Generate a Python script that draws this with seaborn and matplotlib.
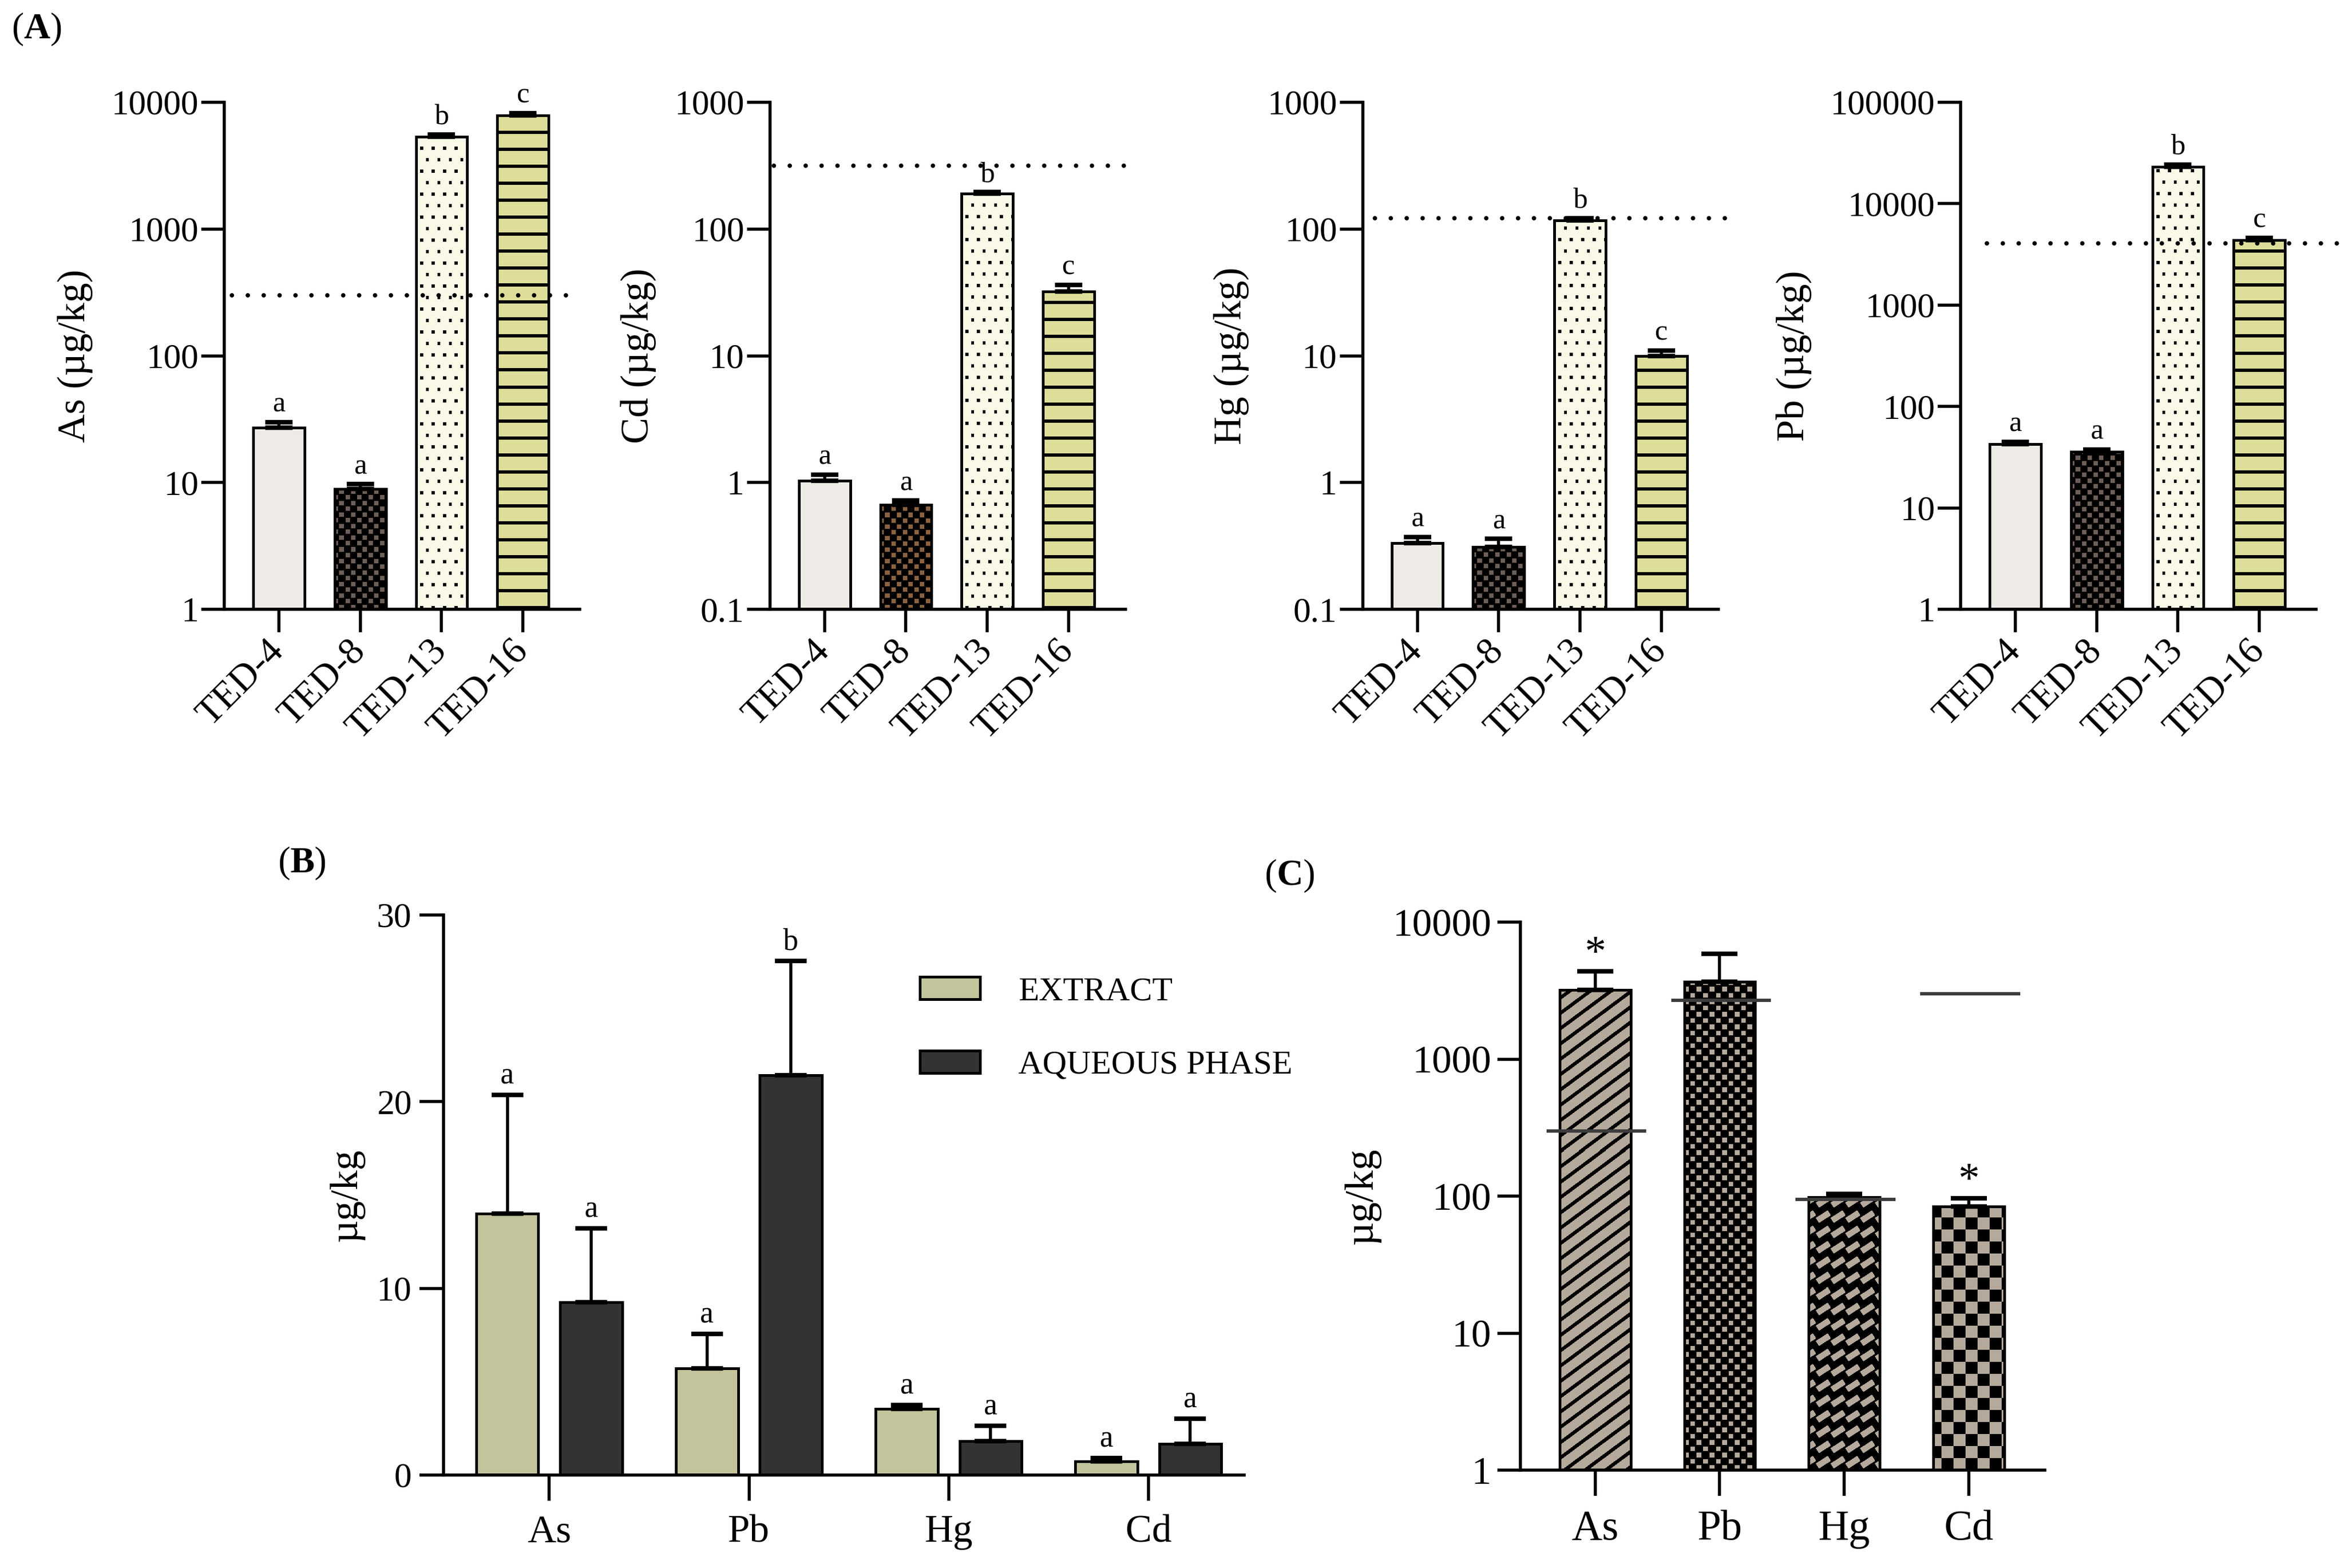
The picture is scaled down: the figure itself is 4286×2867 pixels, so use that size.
import numpy as np
import pandas as pd
import seaborn as sns
import matplotlib
matplotlib.use("Agg")
import matplotlib.pyplot as plt
import matplotlib.colors as mcolors
import matplotlib.image as mimage
from matplotlib.patches import Patch
from matplotlib.ticker import FixedLocator, FuncFormatter, NullLocator

# ---------------- data ----------------
# (A) metal content per sample, log scale
samples = ["TED-4", "TED-8", "TED-13", "TED-16"]
as_mean = [27.2, 8.9, 5330, 7870]
as_sd = [2.7, 0.8, 240, 360]
cd_mean = [1.03, 0.67, 190, 32]
cd_sd = [0.12, 0.05, 5, 4.2]
hg_mean = [0.334, 0.311, 117, 10.0]
hg_sd = [0.038, 0.048, 5, 1.0]
pb_mean = [42.5, 36.0, 23100, 4390]
pb_sd = [2.4, 1.6, 1300, 190]
a_letters = ["a", "a", "b", "c"]
a_limits = {"As": 300, "Cd": 316, "Hg": 122, "Pb": 4050}

# (B) extract vs aqueous phase
metals = ["As", "Pb", "Hg", "Cd"]
fractions = ["EXTRACT", "AQUEOUS PHASE"]
extract_mean = [14.0, 5.7, 3.55, 0.74]
extract_sd = [6.35, 1.85, 0.2, 0.18]
aqueous_mean = [9.27, 21.4, 1.81, 1.68]
aqueous_sd = [3.95, 6.15, 0.82, 1.33]
extract_letters = ["a", "a", "a", "a"]
aqueous_letters = ["a", "b", "a", "a"]

# (C) totals with reference levels
c_mean = [3206, 3675, 98.4, 83.8]
c_sd = [1180, 2215, 5.6, 13]
c_limits = [300, 2700, 95, 3000]
c_marks = ["*", "", "", "*"]

# ---------------- style ----------------
W_PX, H_PX, DPI = 4286, 2867, 200
sns.set_style("ticks")
plt.rcParams.update({
    "font.family": ["Liberation Serif", "DejaVu Serif"],
    "mathtext.fontset": "custom",
    "mathtext.rm": "Liberation Serif",
    "mathtext.bf": "Liberation Serif:bold",
    "axes.edgecolor": "black",
    "axes.linewidth": 2.0,
    "xtick.color": "black",
    "ytick.color": "black",
    "text.color": "black",
    "axes.labelcolor": "black",
})

fig = plt.figure(figsize=(W_PX / DPI, H_PX / DPI), dpi=DPI)


def texture(kind, w, h, bg, fg="black"):
    yy, xx = np.mgrid[0:h, 0:w].astype(float)
    if kind == "dots":
        p = 21.0
        row = np.floor(yy / p)
        mask = (((xx + (row % 2) * p / 2) % p) < 5.5) & ((yy % p) < 5.5)
    elif kind == "hlines":
        mask = (yy % 31.0) < 6
    elif kind == "stripes":
        mask = ((xx / 37.7 - yy / 28.0) % 1) < 0.29
    elif kind == "bricks":
        th = np.deg2rad(33)
        dx = (xx % 27) - 13.5
        dy = (yy % 28) - 14
        u = dx * np.cos(th) + dy * np.sin(th)
        v = -dx * np.sin(th) + dy * np.cos(th)
        mask = ~((np.abs(u) < 13) & (np.abs(v) < 5.5))
    else:
        cell, inner = {"check_s": (10.5, 0.72), "check_f": (11.5, 0.7),
                       "check_l": (22.0, 1.01)}[kind]
        i = np.floor(xx / cell)
        j = np.floor(yy / cell)
        inside = ((xx % cell) < inner * cell) & ((yy % cell) < inner * cell)
        mask = ~(((i + j) % 2 == 0) & inside)
    return np.where(mask[..., None], mcolors.to_rgb(fg), mcolors.to_rgb(bg))


def fill_bar(ax, bar, kind, bg):
    bb = ax.get_position()
    w = int(round(bb.width * W_PX))
    h = int(round(bb.height * H_PX))
    im = mimage.AxesImage(ax, interpolation="nearest", origin="lower",
                          extent=(0, 1, 0, 1), transform=ax.transAxes, zorder=1)
    im.set_data(texture(kind, w, h, bg))
    ax.add_image(im)
    im.set_clip_path(bar)
    bar.set_facecolor("none")
    bar.set_zorder(1.2)


def style_axes(ax, ylen=15):
    sns.despine(ax=ax)
    ax.tick_params(axis="both", which="major", length=ylen, width=2, direction="out")
    ax.tick_params(axis="both", which="minor", length=0)
    ax.yaxis.set_minor_locator(NullLocator())


log_fmt = FuncFormatter(lambda v, _: f"{v:g}")

# ---------------- panel A ----------------
a_left = [0.0957, 0.3285, 0.5814, 0.8365]
a_panels = [
    ("As", as_mean, as_sd, (1, 10000), [-0.58, 3.54], "#6D5F58"),
    ("Cd", cd_mean, cd_sd, (0.1, 1000), [-0.62, 3.8], "#8A6240"),
    ("Hg", hg_mean, hg_sd, (0.1, 1000), [-0.52, 3.79], "#6D5F58"),
    ("Pb", pb_mean, pb_sd, (1, 100000), [-0.35, 4.07], "#6D5F58"),
]
a_fill = ["#EEEAE5", "#6D5F58", "#FAF8E7", "#DEDE9A"]
a_kind = [None, "check_s", "dots", "hlines"]

for left, (metal, mean, sd, ylim, line_x, check_col) in zip(a_left, a_panels):
    ax = fig.add_axes([left, 0.6114, 0.1517, 0.3234])
    ax.set_yscale("log")
    df = pd.DataFrame({"sample": samples, "value": mean})
    cols = [a_fill[0], check_col, a_fill[2], a_fill[3]]
    sns.barplot(data=df, x="sample", y="value", hue="sample", palette=cols,
                legend=False, width=0.63, saturation=1, errorbar=None,
                edgecolor="black", linewidth=1.8, ax=ax)
    for bar, kind, col in zip(ax.patches, a_kind, cols):
        if kind:
            fill_bar(ax, bar, kind, col)
    ax.errorbar(range(4), mean, yerr=[np.zeros(4), sd], fmt="none",
                ecolor="black", elinewidth=2, capsize=9, capthick=3, zorder=4)
    for i, (m, s, lt) in enumerate(zip(mean, sd, a_letters)):
        ax.annotate(lt, (i, m + s), xytext=(0, 3), textcoords="offset points",
                    ha="center", va="bottom", fontsize=19)
    ax.plot(line_x, [a_limits[metal]] * 2, color="black", lw=2.9,
            ls=(0, (0.01, 3.6)), dash_capstyle="round", clip_on=False, zorder=5)
    ax.set_ylim(*ylim)
    ax.set_xlim(-0.67, 3.7)
    dec = np.arange(np.log10(ylim[0]), np.log10(ylim[1]) + 1)
    ax.yaxis.set_major_locator(FixedLocator(10.0 ** dec))
    ax.yaxis.set_major_formatter(log_fmt)
    style_axes(ax)
    ax.tick_params(axis="y", labelsize=23, pad=2)
    ax.set_xticks(range(4))
    ax.set_xticklabels(samples, rotation=45, ha="right", va="center",
                       rotation_mode="anchor", fontsize=25)
    ax.tick_params(axis="x", pad=9)
    ax.set_xlabel("")
    ax.set_ylabel(f"{metal} (µg/kg)", fontsize=26, labelpad=12)

# ---------------- panel B ----------------
axb = fig.add_axes([0.1892, 0.0593, 0.3416, 0.3572])
b_df = pd.DataFrame({
    "metal": metals * 2,
    "fraction": [fractions[0]] * 4 + [fractions[1]] * 4,
    "value": extract_mean + aqueous_mean,
})
b_colors = ["#C3C49B", "#333333"]
sns.barplot(data=b_df, x="metal", y="value", hue="fraction", palette=b_colors,
            width=0.84, gap=0.26, saturation=1, errorbar=None, legend=False,
            edgecolor="black", linewidth=1.8, ax=axb)
b_x = [p.get_x() + p.get_width() / 2 for p in axb.patches]
b_means = extract_mean + aqueous_mean
b_sds = extract_sd + aqueous_sd
axb.errorbar(b_x, b_means, yerr=[np.zeros(8), b_sds], fmt="none",
             ecolor="black", elinewidth=2, capsize=10.5, capthick=3, zorder=4)
for x, m, s, lt in zip(b_x, b_means, b_sds, extract_letters + aqueous_letters):
    axb.annotate(lt, (x, m + s), xytext=(0, 3), textcoords="offset points",
                 ha="center", va="bottom", fontsize=20)
axb.set_ylim(0, 30)
axb.set_xlim(-0.53, 3.48)
axb.set_yticks([0, 10, 20, 30])
style_axes(axb, ylen=16)
axb.tick_params(axis="y", labelsize=23, pad=5)
axb.tick_params(axis="x", labelsize=26, pad=9, length=17)
axb.set_xlabel("")
axb.set_ylabel("µg/kg", fontsize=26, labelpad=8)
axb.legend([Patch(facecolor=c, edgecolor="black", lw=1.8) for c in b_colors],
           fractions, loc="upper left", bbox_to_anchor=(0.595, 0.89),
           frameon=False, fontsize=22, handlelength=1.8, handleheight=0.65,
           handletextpad=1.15, labelspacing=1.3, borderpad=0, borderaxespad=0)

# ---------------- panel C ----------------
axc = fig.add_axes([0.6486, 0.0624, 0.2238, 0.3495])
axc.set_yscale("log")
c_df = pd.DataFrame({"metal": metals, "value": c_mean})
c_tan = "#B5A99C"
sns.barplot(data=c_df, x="metal", y="value", hue="metal", palette=[c_tan] * 4,
            legend=False, width=0.57, saturation=1, errorbar=None,
            edgecolor="black", linewidth=1.8, ax=axc)
for bar, kind in zip(axc.patches, ["stripes", "check_f", "bricks", "check_l"]):
    fill_bar(axc, bar, kind, c_tan)
axc.errorbar(range(4), c_mean, yerr=[np.zeros(4), c_sd], fmt="none",
             ecolor="black", elinewidth=2, capsize=12, capthick=3, zorder=4)
for i, (lim, m, s, mk) in enumerate(zip(c_limits, c_mean, c_sd, c_marks)):
    axc.hlines(lim, i - 0.39, i + 0.41, color="#3C3C3C", lw=2.2, zorder=5)
    if mk:
        axc.annotate(mk, (i, m + s), xytext=(0, -2), textcoords="offset points",
                     ha="center", va="bottom", fontsize=28)
axc.set_ylim(1, 10000)
axc.set_xlim(-0.6, 3.61)
axc.yaxis.set_major_locator(FixedLocator([1, 10, 100, 1000, 10000]))
axc.yaxis.set_major_formatter(log_fmt)
style_axes(axc)
axc.tick_params(axis="y", labelsize=26, pad=4)
axc.tick_params(axis="x", labelsize=28, pad=9, length=17)
axc.set_xlabel("")
axc.set_ylabel("µg/kg", fontsize=27, labelpad=8)

# ---------------- panel labels ----------------
for lbl, x, y in [("A", 0.005, 0.993), ("B", 0.1185, 0.461), ("C", 0.5394, 0.453)]:
    fig.text(x, y, rf"($\mathbf{{{lbl}}}$)", fontsize=24, ha="left", va="top")

fig.savefig("out.png", dpi=DPI)
